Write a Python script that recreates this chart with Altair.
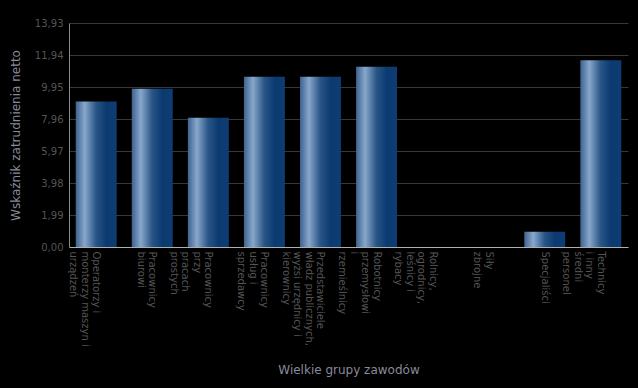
import altair as alt
import pandas as pd

categories = [
    "Operatorzy i|monterzy maszyn i|urządzeń",
    "Pracownicy|biurowi",
    "Pracownicy|przy|pracach|prostych",
    "Pracownicy|usług i|sprzedawcy",
    "Przedstawiciele|władz publicznych,|wyżsi urzędnicy i|kierownicy",
    "Robotnicy|przemysłowi|i|rzemieślnicy",
    "Rolnicy,|ogrodnicy,|leśnicy i|rybacy",
    "Siły|zbrojne",
    "Specjaliści",
    "Technicy|i inny|średni|personel",
]
values = [9.05, 9.84, 8.04, 10.59, 10.59, 11.21, 0.0, 0.0, 0.95, 11.61]
y_ticks = [0.0, 1.99, 3.98, 5.97, 7.96, 9.95, 11.94, 13.93]

df = pd.DataFrame({"grupa": categories, "wartosc": values})

grad = alt.Gradient(
    gradient="linear",
    x1=0, x2=1, y1=0, y2=0,
    stops=[
        alt.GradientStop(color="#3d6390", offset=0),
        alt.GradientStop(color="#88a7cb", offset=0.22),
        alt.GradientStop(color="#285585", offset=0.5),
        alt.GradientStop(color="#0b3a71", offset=0.75),
        alt.GradientStop(color="#0d3d74", offset=1),
    ],
)

chart = (
    alt.Chart(df)
    .mark_bar(color=grad)
    .encode(
        x=alt.X(
            "grupa:N",
            sort=None,
            scale=alt.Scale(paddingInner=0.27, paddingOuter=0.12),
            axis=alt.Axis(
                title="Wielkie grupy zawodów",
                labelAngle=90,
                labelAlign="left",
                labelBaseline="middle",
                labelExpr="split(datum.label, '|')",
                labelLimit=300,
                labelFont="DejaVu Sans",
                labelFontSize=10,
                labelLineHeight=11.5,
                labelColor="#555555",
                labelPadding=4,
                ticks=False,
                domainColor="#b0b0b0",
                titleFont="DejaVu Sans",
                titleFontSize=12,
                titleFontWeight="normal",
                titleColor="#8a8a9a",
                titlePadding=18,
            ),
        ),
        y=alt.Y(
            "wartosc:Q",
            scale=alt.Scale(domain=[0, 13.93], nice=False, zero=True),
            axis=alt.Axis(
                title="Wskaźnik zatrudnienia netto",
                values=y_ticks,
                labelExpr="replace(format(datum.value, '.2f'), '.', ',')",
                labelFont="DejaVu Sans",
                labelFontSize=10,
                labelColor="#555555",
                labelPadding=6,
                ticks=False,
                grid=True,
                gridColor="#383838",
                domainColor="#8a8a8a",
                titleFont="DejaVu Sans",
                titleFontSize=12,
                titleFontWeight="normal",
                titleColor="#8a8a9a",
                titlePadding=12,
            ),
        ),
    )
    .properties(
        width=559,
        height=224,
        background="#000000",
        autosize=alt.AutoSizeParams(type="none"),
        padding={"left": 69, "top": 23, "right": 10, "bottom": 141},
    )
    .configure_view(stroke=None)
)

chart.save("out.html", embed_options={"renderer": "svg", "actions": False})
